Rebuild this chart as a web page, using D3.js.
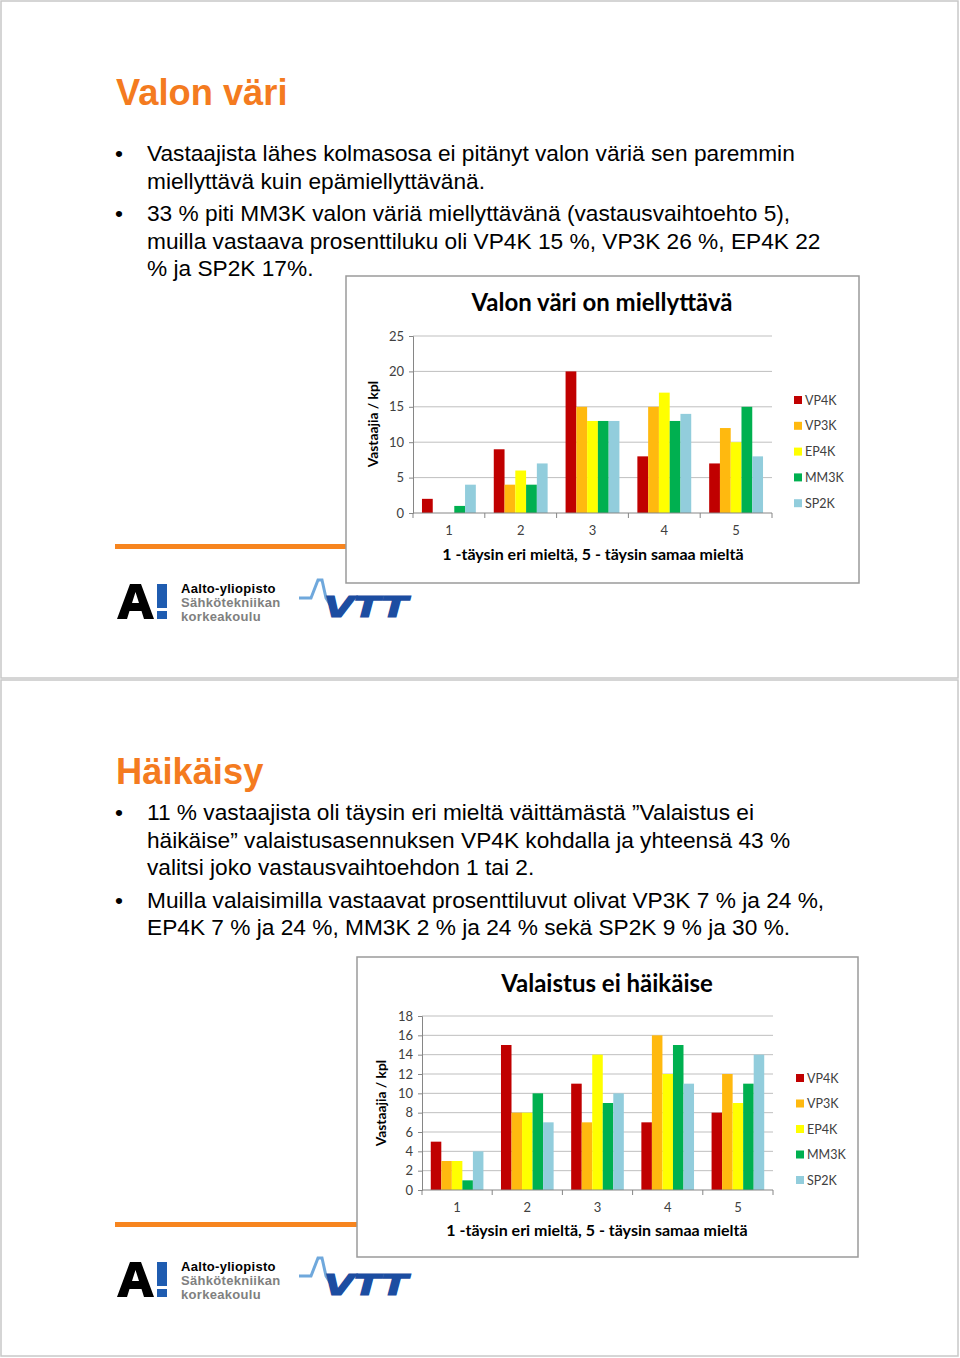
<!DOCTYPE html>
<meta charset="utf-8">
<script src="https://d3js.org/d3.v7.min.js"></script>
<style>
body { margin: 0; background: #fff; }
svg { display: block; }
.body-text { font-family: "Liberation Sans", Arial, sans-serif; font-size: 22.7px; fill: #000; }
.heading { font-family: "Liberation Sans", Arial, sans-serif; font-size: 36.3px; font-weight: bold; fill: #F47B20; }
.chart text { font-family: Lato, "Open Sans", sans-serif; }
.grid line { stroke: #bfbfbf; stroke-width: 1px; }
</style>
<body>
<script>

// --- data ---
var categories = ["1", "2", "3", "4", "5"];
var series = ["VP4K", "VP3K", "EP4K", "MM3K", "SP2K"];
var seriesColors = ["#C00000", "#FFB90F", "#FFFF00", "#00B050", "#92CDDC"];

// Valon väri on miellyttävä
var colorVP4K = [2, 9, 20, 8, 7];
var colorVP3K = [0, 4, 15, 15, 12];
var colorEP4K = [0, 6, 13, 17, 10];
var colorMM3K = [1, 4, 13, 13, 15];
var colorSP2K = [4, 7, 13, 14, 8];
var colorTicks = [0, 5, 10, 15, 20, 25];

// Valaistus ei häikäise
var glareVP4K = [5, 15, 11, 7, 8];
var glareVP3K = [3, 8, 7, 16, 12];
var glareEP4K = [3, 8, 14, 12, 9];
var glareMM3K = [1, 10, 9, 15, 11];
var glareSP2K = [4, 7, 10, 11, 14];
var glareTicks = [0, 2, 4, 6, 8, 10, 12, 14, 16, 18];

var yLabel = "Vastaajia / kpl";
var xLabel = "1 -täysin eri mieltä, 5 - täysin samaa mieltä";

var page1Heading = "Valon väri";
var page1Bullets = [
  ["Vastaajista lähes kolmasosa ei pitänyt valon väriä sen paremmin",
   "miellyttävä kuin epämiellyttävänä."],
  ["33 % piti MM3K valon väriä miellyttävänä (vastausvaihtoehto 5),",
   "muilla vastaava prosenttiluku oli VP4K 15 %, VP3K 26 %, EP4K 22",
   "% ja SP2K 17%."]
];
var page2Heading = "Häikäisy";
var page2Bullets = [
  ["11 % vastaajista oli täysin eri mieltä väittämästä ”Valaistus ei",
   "häikäise” valaistusasennuksen VP4K kohdalla ja yhteensä 43 %",
   "valitsi joko vastausvaihtoehdon 1 tai 2."],
  ["Muilla valaisimilla vastaavat prosenttiluvut olivat VP3K 7 % ja 24 %,",
   "EP4K 7 % ja 24 %, MM3K 2 % ja 24 % sekä SP2K 9 % ja 30 %."]
];

var width = 960, height = 1358;

var svg = d3.select("body").append("svg")
    .attr("width", width)
    .attr("height", height);

// page borders
[[1, 1, 957, 677], [1, 680, 957, 676]].forEach(function(r) {
  svg.append("rect")
    .attr("x", r[0]).attr("y", r[1]).attr("width", r[2]).attr("height", r[3])
    .attr("fill", "none").attr("stroke", "#c8c8c8").attr("stroke-width", 1.5);
});

function drawPage(top, heading, headingY, bullets, firstY) {
  svg.append("text").attr("class", "heading")
    .attr("x", 116).attr("y", top + headingY).text(heading);
  var y = top + firstY;
  bullets.forEach(function(lines) {
    svg.append("text").attr("class", "body-text")
      .attr("x", 115).attr("y", y).text("•");
    lines.forEach(function(line) {
      svg.append("text").attr("class", "body-text")
        .attr("x", 147).attr("y", y).text(line);
      y += 27.5;
    });
    y += 5;
  });
}

function drawFooter(top, lineEnd) {
  // orange rule
  svg.append("rect")
    .attr("x", 115).attr("y", top + 544).attr("width", lineEnd - 115).attr("height", 5)
    .attr("fill", "#F7851F");
  // Aalto logo
  var g = svg.append("g").attr("transform", "translate(0," + top + ")");
  g.append("path")
    .attr("d", "M117,619 L130,584 L141,584 L154,619 L144,619 L141.5,611 L129.5,611 L127,619 Z M132,603 L139,603 L135.5,592 Z")
    .attr("fill", "#000");
  g.append("rect").attr("x", 157).attr("y", 584).attr("width", 10).attr("height", 24).attr("fill", "#1F5CB0");
  g.append("rect").attr("x", 157).attr("y", 611).attr("width", 10).attr("height", 8).attr("fill", "#1F5CB0");
  var t = [["Aalto-yliopisto", "#000", 593], ["Sähkötekniikan", "#808080", 607], ["korkeakoulu", "#808080", 621]];
  t.forEach(function(d) {
    g.append("text").attr("x", 181).attr("y", d[2])
      .style("font-family", "Liberation Sans, Arial, sans-serif")
      .style("font-size", "13px").style("font-weight", "bold")
      .style("letter-spacing", "0.3px")
      .attr("fill", d[1]).text(d[0]);
  });
  // VTT logo
  g.append("path")
    .attr("d", "M299,598 L311,598 L318,580 L322,580 L326,598 L331,606")
    .attr("fill", "none").attr("stroke", "#6FA8DC").attr("stroke-width", 3);
  g.append("text").attr("x", 324).attr("y", 617)
    .style("font-family", "DejaVu Sans, sans-serif")
    .style("font-size", "29px").style("font-weight", "bold").style("font-style", "italic")
    .attr("textLength", 84).attr("lengthAdjust", "spacingAndGlyphs")
    .attr("stroke", "#1C4DA1").attr("stroke-width", 1.2)
    .attr("fill", "#1C4DA1").text("VTT");
}

function drawChart(cfg) {
  var g = svg.append("g").attr("class", "chart");
  g.append("rect")
    .attr("x", cfg.box[0]).attr("y", cfg.box[1]).attr("width", cfg.box[2]).attr("height", cfg.box[3])
    .attr("fill", "#fff").attr("stroke", "#9a9a9a").attr("stroke-width", 1.5);

  var x = d3.scaleBand().domain(categories).range([cfg.x0, cfg.x1]);
  var xs = d3.scaleBand().domain(series).range([0, x.bandwidth()]).paddingOuter(0.833);
  var y = d3.scaleLinear().domain([0, cfg.ticks[cfg.ticks.length - 1]]).range([cfg.y0, cfg.yTop]);

  // gridlines
  g.append("g").attr("class", "grid")
    .selectAll("line").data(cfg.ticks.slice(1)).enter().append("line")
    .attr("x1", cfg.x0).attr("x2", cfg.x1)
    .attr("y1", function(d) { return y(d); }).attr("y2", function(d) { return y(d); });

  // y axis
  var ya = g.append("g").attr("transform", "translate(" + cfg.x0 + ",0)")
    .call(d3.axisLeft(y).tickValues(cfg.ticks).tickSize(4).tickPadding(5));
  ya.select(".domain").attr("stroke", "#868686");
  ya.selectAll(".tick line").attr("stroke", "#868686");
  ya.selectAll("text").style("font-size", "13px").attr("fill", "#404040");

  // bars
  var rows = categories.map(function(c, i) {
    return series.map(function(s, j) { return {cat: c, s: s, v: cfg.values[j][i], color: seriesColors[j]}; });
  });
  g.append("g").selectAll("g").data(rows).enter().append("g")
    .attr("transform", function(d, i) { return "translate(" + x(categories[i]) + ",0)"; })
    .selectAll("rect").data(function(d) { return d; }).enter().append("rect")
    .attr("x", function(d) { return xs(d.s); })
    .attr("width", xs.bandwidth())
    .attr("y", function(d) { return y(d.v); })
    .attr("height", function(d) { return cfg.y0 - y(d.v); })
    .attr("fill", function(d) { return d.color; });

  // x axis
  var xa = g.append("g").attr("transform", "translate(0," + cfg.y0 + ")");
  xa.append("line").attr("x1", cfg.x0).attr("x2", cfg.x1).attr("stroke", "#868686");
  xa.selectAll(".sep").data(d3.range(categories.length + 1)).enter().append("line")
    .attr("x1", function(i) { return cfg.x0 + i * x.step(); })
    .attr("x2", function(i) { return cfg.x0 + i * x.step(); })
    .attr("y1", 0).attr("y2", 5).attr("stroke", "#868686");
  xa.selectAll("text").data(categories).enter().append("text")
    .attr("x", function(d) { return x(d) + x.bandwidth() / 2; })
    .attr("y", 22).attr("text-anchor", "middle")
    .style("font-size", "13px").attr("fill", "#404040").text(function(d) { return d; });

  // titles
  g.append("text").attr("x", cfg.titleX).attr("y", cfg.titleY).attr("text-anchor", "middle")
    .style("font-size", "24px").style("font-weight", "bold").attr("fill", "#000").text(cfg.title);
  g.append("text").attr("x", cfg.xTitleX).attr("y", cfg.xTitleY).attr("text-anchor", "middle")
    .style("font-size", "16px").style("font-weight", "bold").attr("fill", "#000").text(xLabel);
  g.append("text")
    .attr("transform", "translate(" + cfg.yTitleX + "," + cfg.yTitleY + ") rotate(-90)")
    .attr("text-anchor", "middle")
    .style("font-size", "13.8px").style("font-weight", "bold").attr("fill", "#000").text(yLabel);

  // legend
  var lg = g.append("g").selectAll("g").data(series).enter().append("g")
    .attr("transform", function(d, i) { return "translate(" + cfg.legendX + "," + (cfg.legendY + i * cfg.legendStep) + ")"; });
  lg.append("rect").attr("x", 0).attr("y", -4).attr("width", 8).attr("height", 8)
    .attr("fill", function(d, i) { return seriesColors[i]; });
  lg.append("text").attr("x", 11).attr("y", 4.5)
    .style("font-size", "12.5px").attr("fill", "#404040").text(function(d) { return d; });
}

drawPage(0, page1Heading, 105, page1Bullets, 161);
drawPage(678, page2Heading, 106, page2Bullets, 142);

drawFooter(0, 350);
drawFooter(678, 360);

drawChart({
  box: [346, 276, 513, 307],
  x0: 413, x1: 772, y0: 513, yTop: 336,
  ticks: colorTicks,
  values: [colorVP4K, colorVP3K, colorEP4K, colorMM3K, colorSP2K],
  title: "Valon väri on miellyttävä", titleX: 602, titleY: 311,
  xTitleX: 593, xTitleY: 560,
  yTitleX: 378, yTitleY: 424,
  legendX: 794, legendY: 400, legendStep: 25.8
});

drawChart({
  box: [357, 957, 501, 300],
  x0: 422, x1: 773, y0: 1190, yTop: 1016,
  ticks: glareTicks,
  values: [glareVP4K, glareVP3K, glareEP4K, glareMM3K, glareSP2K],
  title: "Valaistus ei häikäise", titleX: 607, titleY: 992,
  xTitleX: 597, xTitleY: 1236,
  yTitleX: 386, yTitleY: 1103,
  legendX: 796, legendY: 1078, legendStep: 25.5
});

</script>
</body>
